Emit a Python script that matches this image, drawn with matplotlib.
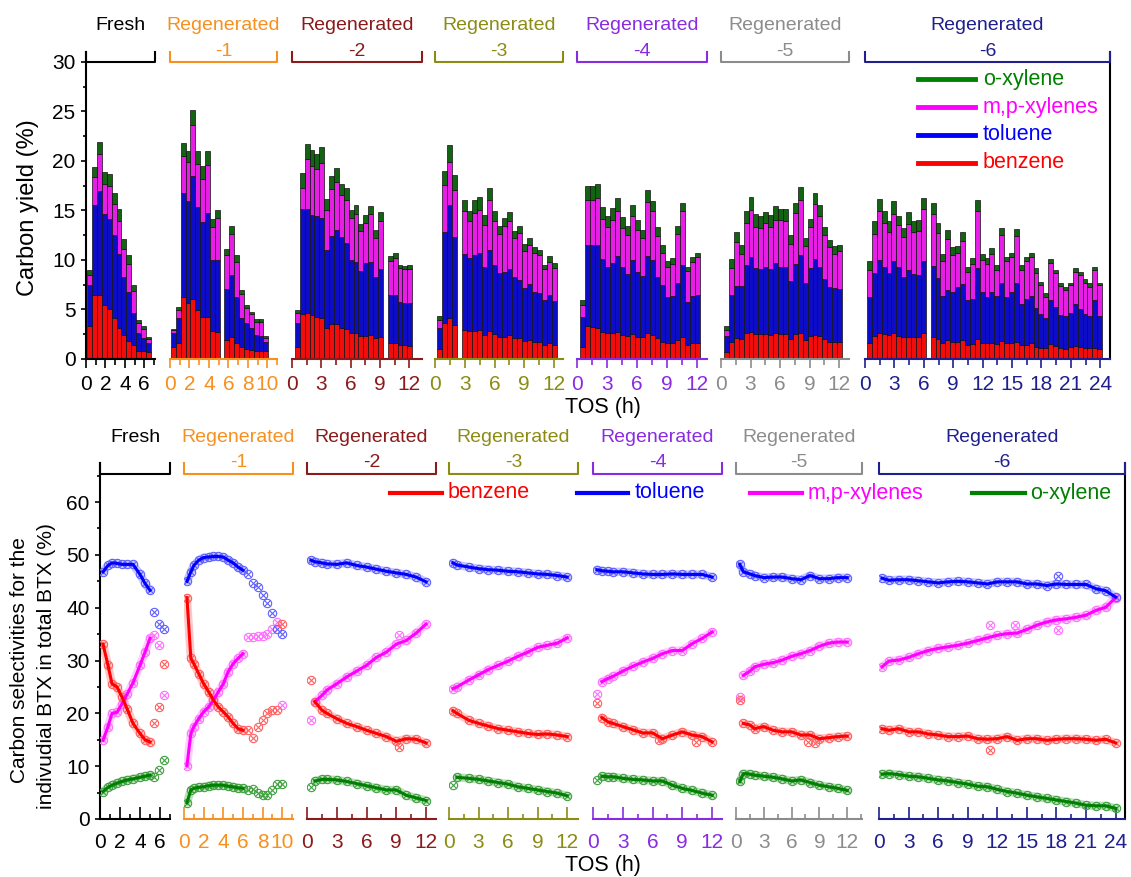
import numpy as np
import matplotlib.pyplot as plt
from matplotlib.lines import Line2D
from matplotlib.ticker import MultipleLocator

plt.rcParams['font.family'] = ['Liberation Sans', 'DejaVu Sans']

nan = np.nan
W, H = 1131, 877

# segments of the catalyst life
seg_title = ['Fresh'] + ['Regenerated'] * 6
seg_suffix = ['', '-1', '-2', '-3', '-4', '-5', '-6']
seg_color = ['#000000', '#f7901e', '#8b1a1a', '#8c8c14', '#8a2be2', '#8c8c8c', '#1f1f8f']
seg_major = [2, 2, 3, 3, 3, 3, 3]

species = ['benzene', 'toluene', 'm,p-xylenes', 'o-xylene']
bar_color = ['#f20d0d', '#0d0dc8', '#e61ee6', '#126412']
line_color = ['#ff0000', '#0000ff', '#ff00ff', '#008000']
mark_color = ['#ff6060', '#6060ff', '#ff70ff', '#40a040']

# ---------------- carbon yield (%) ----------------
fresh_tos = [0.4, 0.9, 1.4, 1.9, 2.4, 2.9, 3.4, 3.9, 4.4, 4.9, 5.4, 5.9, 6.4]
fresh_benzene = [3.3, 6.45, 6.45, 5.5, 5.0, 4.1, 3.15, 2.4, 1.85, 1.4, 0.85, 0.85, 0.7]
fresh_toluene = [4.15, 9.15, 10.55, 9.1, 9.1, 8.4, 7.45, 5.9, 4.95, 3.25, 1.75, 1.25, 0.9]
fresh_mp = [1.0, 2.8, 3.7, 3.1, 3.4, 3.2, 3.3, 2.8, 2.8, 2.25, 1.0, 0.9, 0.4]
fresh_ox = [0.5, 1.0, 1.2, 1.2, 1.2, 1.1, 1.2, 1.0, 0.9, 0.55, 0.3, 0.3, 0.2]

r1_tos = [0.35, 0.85, 1.35, 1.85, 2.35, 2.85, 3.35, 3.85, 4.35, 4.85,
          5.85, 6.35, 6.85, 7.35, 7.85, 8.35, 8.85, 9.35, 9.85]
r1_benzene = [1.25, 1.6, 6.3, 5.7, 6.1, 4.9, 4.2, 4.2, 2.85, 2.7,
              1.9, 2.25, 1.6, 1.2, 1.0, 0.95, 0.85, 0.85, 0.85]
r1_toluene = [1.35, 2.5, 10.5, 10.3, 12.4, 10.4, 9.6, 10.5, 7.15, 7.3,
              5.2, 6.2, 4.7, 2.9, 2.6, 2.15, 1.55, 1.45, 0.9]
r1_mp = [0.3, 0.8, 3.7, 3.9, 5.1, 4.4, 4.4, 4.9, 3.3, 4.2,
         3.4, 4.2, 3.5, 2.5, 1.5, 1.4, 1.35, 1.45, 0.35]
r1_ox = [0.1, 0.35, 1.3, 1.1, 1.5, 1.3, 1.3, 1.4, 0.8, 0.8,
         0.6, 0.75, 0.7, 0.35, 0.35, 0.25, 0.25, 0.25, 0.2]

r2_tos = [0.55, 1.05, 1.55, 2.05, 2.55, 3.05, 3.55, 4.05, 4.55, 5.05, 5.55, 6.05,
          6.55, 7.05, 7.55, 8.05, 8.55, 9.05, 10.05, 10.55, 11.05, 11.55, 12.05]
r2_benzene = [1.25, 4.55, 4.6, 4.4, 4.2, 4.1, 3.15, 3.5, 3.55, 3.15, 3.0, 2.65,
              2.6, 2.3, 2.3, 2.4, 2.1, 2.2, 1.6, 1.6, 1.4, 1.4, 1.35]
r2_toluene = [2.4, 10.55, 10.5, 10.15, 10.2, 10.1, 7.85, 8.9, 9.45, 9.15, 8.7, 7.35,
              7.2, 6.6, 7.35, 7.4, 6.2, 6.9, 4.85, 4.85, 4.4, 4.3, 4.35]
r2_mp = [0.95, 2.2, 5.1, 4.95, 4.8, 5.6, 4.0, 4.8, 4.9, 4.3, 4.4, 4.2,
         4.8, 4.0, 4.05, 4.8, 3.9, 4.8, 3.45, 3.7, 3.35, 3.35, 3.4]
r2_ox = [0.3, 1.45, 1.5, 1.6, 1.5, 1.6, 1.2, 1.3, 1.4, 1.1, 1.2, 0.85,
         0.95, 0.7, 0.8, 0.85, 0.8, 0.9, 0.5, 0.55, 0.35, 0.35, 0.4]

r3_tos = [0.5, 1.0, 1.5, 2.0, 3.0, 3.5, 4.0, 4.5, 5.0, 5.5, 6.0, 6.5,
          7.0, 7.5, 8.0, 8.5, 9.0, 9.5, 10.0, 10.5, 11.0, 11.5, 12.0]
r3_benzene = [1.0, 3.65, 4.1, 3.45, 2.9, 2.85, 2.85, 2.9, 2.4, 2.85, 2.5, 2.25,
              2.25, 2.4, 2.1, 2.1, 1.85, 1.9, 1.75, 1.75, 1.4, 1.6, 1.4]
r3_toluene = [2.1, 9.2, 11.45, 8.9, 7.7, 7.3, 7.65, 7.85, 6.9, 8.15, 7.0, 6.4,
              6.55, 6.65, 6.2, 5.9, 5.3, 5.7, 5.05, 4.9, 4.55, 4.85, 4.5]
r3_mp = [0.85, 4.75, 4.35, 4.75, 4.3, 3.75, 4.2, 4.3, 4.2, 5.1, 4.4, 3.95,
         4.6, 4.85, 3.9, 4.7, 3.75, 3.9, 3.9, 3.85, 3.1, 3.35, 3.25]
r3_ox = [0.35, 1.4, 1.7, 1.5, 1.2, 1.0, 1.4, 1.35, 1.0, 1.2, 1.0, 0.8,
         0.8, 0.9, 0.7, 0.7, 0.7, 0.7, 0.6, 0.5, 0.45, 0.6, 0.5]

r4_tos = [0.55, 1.05, 1.55, 2.05, 2.55, 3.05, 3.55, 4.05, 4.55, 5.05, 5.55, 6.05,
          6.55, 7.05, 7.55, 8.05, 8.55, 9.05, 9.55, 10.05, 10.55, 11.05, 11.55, 12.05]
r4_benzene = [1.25, 3.35, 3.2, 3.15, 2.75, 2.6, 2.65, 2.75, 2.4, 2.3, 2.5, 2.25,
              2.2, 2.6, 2.4, 2.1, 1.75, 1.6, 1.65, 1.9, 2.25, 1.4, 1.6, 1.6]
r4_toluene = [2.95, 8.15, 8.3, 8.35, 7.3, 6.7, 7.05, 7.65, 6.9, 6.3, 7.5, 6.55,
              6.2, 7.85, 7.6, 6.2, 5.75, 4.7, 4.7, 5.8, 7.25, 4.4, 4.75, 4.9]
r4_mp = [1.3, 4.6, 4.6, 4.8, 4.05, 4.0, 4.3, 4.55, 3.9, 3.9, 4.45, 4.2,
         3.8, 5.45, 4.9, 4.1, 3.25, 3.0, 3.25, 4.9, 5.45, 3.1, 3.45, 3.8]
r4_ox = [0.5, 1.4, 1.4, 1.4, 1.2, 1.1, 1.2, 1.35, 1.1, 0.9, 1.15, 1.0,
         0.8, 1.2, 1.1, 0.9, 0.75, 0.6, 0.6, 0.8, 0.85, 0.4, 0.5, 0.45]

r5_tos = [0.55, 1.05, 1.55, 2.05, 2.55, 3.05, 3.55, 4.05, 4.55, 5.05, 5.55, 6.05,
          6.55, 7.05, 7.55, 8.05, 8.55, 9.05, 9.55, 10.05, 10.55, 11.05, 11.55, 12.05]
r5_benzene = [0.75, 1.75, 2.1, 2.0, 2.6, 2.7, 2.5, 2.5, 2.5, 2.4, 2.6, 2.5,
              2.5, 2.0, 2.5, 2.6, 1.9, 2.3, 2.4, 2.3, 2.0, 1.75, 1.75, 1.75]
r5_toluene = [1.55, 4.7, 5.25, 5.35, 6.9, 7.55, 6.65, 6.55, 6.8, 6.65, 7.05, 6.8,
              6.75, 5.9, 7.1, 7.9, 5.75, 6.85, 7.65, 7.0, 6.1, 5.55, 5.4, 5.3]
r5_mp = [0.6, 2.7, 4.5, 3.3, 4.2, 4.8, 4.2, 4.15, 4.4, 4.3, 4.4, 4.75,
         4.7, 3.7, 5.1, 5.55, 3.75, 4.15, 5.6, 5.15, 4.4, 4.05, 3.5, 3.85]
r5_ox = [0.45, 0.9, 1.0, 0.85, 1.2, 1.35, 1.25, 1.2, 1.15, 1.2, 1.35, 1.05,
         1.15, 0.9, 1.1, 1.3, 0.8, 0.8, 1.15, 1.1, 0.85, 0.65, 0.75, 0.6]

r6_tos = [0.45, 0.95, 1.45, 1.95, 2.45, 2.95, 3.45, 3.95, 4.45, 4.95, 5.45, 5.95,
          6.95, 7.45, 7.95, 8.45, 8.95, 9.45, 9.95, 10.45, 10.95, 11.45, 11.95, 12.45,
          12.95, 13.45, 13.95, 14.45, 14.95, 15.45, 15.95, 16.45, 16.95, 17.45, 17.95,
          18.45, 18.95, 19.45, 19.95, 20.45, 20.95, 21.45, 21.95, 22.45, 22.95, 23.45, 23.95]
r6_benzene = [1.65, 2.35, 2.65, 2.5, 2.4, 2.6, 2.35, 2.25, 2.25, 2.25, 2.25, 2.6,
              2.25, 2.0, 1.6, 1.9, 1.7, 1.75, 1.9, 1.4, 1.5, 2.0, 1.6, 1.65,
              1.65, 1.5, 1.8, 1.6, 1.65, 1.75, 1.4, 1.4, 1.6, 1.25, 1.1,
              1.1, 1.5, 1.3, 1.15, 1.0, 1.25, 1.3, 1.25, 1.15, 1.15, 1.15, 1.0]
r6_toluene = [4.65, 6.3, 7.35, 6.75, 6.25, 7.25, 6.9, 6.05, 6.75, 6.3, 6.25, 7.3,
              7.1, 6.15, 4.75, 5.05, 5.1, 5.55, 5.7, 4.55, 4.6, 7.15, 5.2, 4.65,
              5.15, 4.85, 5.85, 4.65, 5.15, 5.9, 4.2, 4.7, 4.75, 3.85, 3.45,
              3.0, 4.45, 4.0, 3.25, 3.3, 3.35, 4.25, 3.8, 3.4, 3.2, 4.85, 3.3]
r6_mp = [2.7, 3.95, 4.9, 4.45, 4.2, 4.8, 4.3, 4.0, 4.6, 4.3, 4.4, 5.2,
         5.25, 4.55, 3.5, 5.15, 3.7, 3.4, 4.3, 2.8, 3.45, 5.75, 3.2, 3.3,
         3.8, 2.65, 4.85, 3.6, 3.45, 4.75, 3.35, 3.75, 3.95, 3.6, 2.9,
         2.2, 3.7, 3.35, 2.95, 2.65, 2.85, 3.25, 3.45, 3.1, 2.95, 3.0, 3.15]
r6_ox = [0.85, 1.3, 1.3, 1.2, 1.05, 1.3, 0.9, 0.9, 1.2, 1.1, 1.15, 1.2,
         1.2, 1.0, 0.75, 0.95, 0.8, 0.75, 0.9, 0.55, 0.6, 1.15, 0.6, 0.55,
         0.65, 0.5, 0.7, 0.4, 0.5, 0.7, 0.55, 0.4, 0.45, 0.45, 0.35,
         0.35, 0.4, 0.35, 0.35, 0.35, 0.25, 0.35, 0.3, 0.4, 0.35, 0.25, 0.25]

yield_data = [
    (fresh_tos, [fresh_benzene, fresh_toluene, fresh_mp, fresh_ox]),
    (r1_tos, [r1_benzene, r1_toluene, r1_mp, r1_ox]),
    (r2_tos, [r2_benzene, r2_toluene, r2_mp, r2_ox]),
    (r3_tos, [r3_benzene, r3_toluene, r3_mp, r3_ox]),
    (r4_tos, [r4_benzene, r4_toluene, r4_mp, r4_ox]),
    (r5_tos, [r5_benzene, r5_toluene, r5_mp, r5_ox]),
    (r6_tos, [r6_benzene, r6_toluene, r6_mp, r6_ox]),
]

# ---------------- selectivity in total BTX (%) ----------------
s0_tos = [0.3, 0.8, 1.2, 1.7, 2.2, 2.7, 3.3, 4.0, 4.5, 5.0]
s0_benzene = [33.1, 29.1, 25.6, 25.0, 23.1, 20.9, 18.1, 16.2, 15.0, 14.6]
s0_toluene = [46.8, 48.0, 48.5, 48.4, 48.2, 48.2, 48.2, 46.3, 44.6, 43.3]
s0_mp = [14.9, 17.5, 20.0, 20.2, 21.8, 23.6, 25.8, 29.1, 31.6, 34.2]
s0_ox = [5.2, 6.0, 6.4, 6.8, 7.1, 7.4, 7.6, 7.9, 8.1, 8.3]
s0_out_tos = [5.4, 5.9, 6.4]
s0_out = [[18.1, 21.2, 29.4], [39.2, 37.0, 36.0], [34.8, 32.9, 23.4], [8.0, 9.3, 11.2]]

s1_tos = [0.3, 0.7, 1.0, 1.5, 2.0, 2.5, 3.0, 3.5, 4.0, 4.5, 5.0, 5.5, 6.0]
s1_benzene = [41.9, 30.4, 29.4, 27.5, 25.6, 24.1, 22.5, 21.2, 20.3, 19.3, 18.1, 17.1, 16.8]
s1_toluene = [45.0, 46.8, 48.0, 49.0, 49.5, 49.6, 49.7, 49.7, 49.6, 49.0, 48.5, 47.7, 47.1]
s1_mp = [10.1, 16.2, 17.5, 19.0, 20.3, 21.2, 22.5, 24.1, 25.6, 27.9, 29.4, 30.4, 31.3]
s1_ox = [3.1, 5.5, 5.8, 6.0, 6.1, 6.3, 6.4, 6.4, 6.4, 6.2, 6.1, 5.9, 5.8]
s1_out_tos = [6.5, 7.0, 7.5, 8.0, 8.5, 9.0, 9.5, 10.0]
s1_out = [[16.9, 15.4, 17.5, 18.7, 20.0, 20.6, 20.6, 37.0],
          [46.4, 44.7, 43.9, 42.5, 40.8, 39.0, 36.0, 35.1],
          [34.5, 34.5, 34.6, 34.6, 35.1, 36.0, 37.3, 21.5],
          [5.4, 5.6, 4.9, 4.5, 4.5, 5.5, 6.7, 6.6]]

s2_tos = [0.4, 0.8, 1.5, 2, 3, 4, 5, 6, 7, 8, 9, 10, 11, 12]
s2_benzene = [nan, 22.2, 20.6, 20.0, 19.0, 18.1, 17.5, 16.8, 16.2, 15.6, 14.7, 15.2, 15.1, 14.4]
s2_toluene = [49.0, 48.7, 48.5, 48.3, 48.2, 48.5, 48.0, 47.7, 47.3, 46.9, 46.6, 46.3, 45.8, 44.9]
s2_mp = [nan, 22.2, 23.4, 24.4, 25.6, 26.9, 28.0, 29.1, 30.6, 31.6, 33.1, 33.8, 35.2, 36.9]
s2_ox = [nan, 7.2, 7.5, 7.5, 7.4, 7.1, 6.7, 6.3, 5.9, 5.5, 5.5, 4.5, 4.0, 3.5]
s2_out_tos = [0.4, 9.3]
s2_out = [[26.3, 13.7], [nan, nan], [18.8, 34.8], [6.1, nan]]

s3_tos = [0.4, 0.8, 2, 3, 4, 5, 6, 7, 8, 9, 10, 11, 12]
s3_benzene = [20.5, 20.0, 18.7, 18.1, 17.6, 17.1, 16.8, 16.5, 16.2, 16.0, 16.1, 15.9, 15.6]
s3_toluene = [48.5, 48.1, 47.7, 47.4, 47.2, 47.1, 46.9, 46.8, 46.6, 46.4, 46.3, 46.1, 45.8]
s3_mp = [24.7, 25.0, 26.3, 27.3, 28.3, 29.1, 29.9, 30.8, 31.6, 32.5, 32.9, 33.3, 34.3]
s3_ox = [nan, 7.9, 7.7, 7.5, 7.2, 6.9, 6.6, 6.1, 5.8, 5.5, 5.2, 4.9, 4.4]
s3_out_tos = [0.4]
s3_out = [[nan], [nan], [nan], [6.4]]

s4_tos = [0.4, 0.9, 1.5, 2, 3, 4, 5, 6, 7, 8, 9, 10, 11, 12]
s4_benzene = [nan, 19.2, 18.4, 18.1, 17.5, 16.9, 16.3, 16.3, 15.2, 15.9, 16.5, 15.9, 15.6, 14.6]
s4_toluene = [47.2, 47.0, 46.9, 46.8, 46.8, 46.6, 46.4, 46.3, 46.3, 46.4, 46.3, 46.3, 46.3, 45.8]
s4_mp = [nan, 26.0, 26.6, 27.0, 28.0, 28.9, 29.7, 30.4, 31.3, 31.9, 31.9, 33.2, 34.2, 35.4]
s4_ox = [nan, 8.1, 8.0, 8.0, 7.7, 7.5, 7.4, 7.2, 7.2, 6.4, 5.8, 5.4, 4.9, 4.5]
s4_out_tos = [0.4, 6.7, 10.4]
s4_out = [[21.9, 14.9, 14.5], [nan, nan, nan], [23.6, nan, nan], [7.4, nan, nan]]

s5_tos = [0.4, 0.8, 1.5, 2, 3, 4, 5, 6, 7, 8, 9, 10, 11, 12]
s5_benzene = [nan, 18.1, 17.8, 17.1, 17.5, 16.8, 16.5, 16.5, 15.9, 15.9, 15.2, 15.4, 15.6, 15.7]
s5_toluene = [48.2, 46.8, 46.4, 46.1, 45.7, 45.8, 45.8, 45.5, 45.3, 46.1, 45.5, 45.5, 45.7, 45.7]
s5_mp = [nan, 27.2, 28.0, 28.8, 29.3, 29.6, 30.1, 30.8, 31.3, 31.9, 32.7, 33.3, 33.5, 33.5]
s5_ox = [7.1, 8.6, 8.5, 8.3, 8.1, 7.9, 7.6, 7.2, 7.4, 6.9, 6.4, 6.1, 5.8, 5.4]
s5_out_tos = [0.4, 7.8, 8.5]
s5_out = [[22.5, 14.6, 14.3], [nan, nan, nan], [23.1, nan, nan], [nan, nan, nan]]

s6_tos = [0.3, 1, 2, 3, 4, 5, 6, 7, 8, 9, 10, 11, 12, 13, 14, 15, 16, 17, 18, 19, 20, 21, 22, 23, 24]
s6_benzene = [17.1, 16.8, 17.1, 16.5, 16.5, 16.1, 15.9, 15.6, 15.6, 15.7, 15.2, 15.1, 15.2,
              15.6, 14.9, 15.2, 15.2, 14.9, 15.1, 15.2, 15.2, 15.1, 14.9, 15.1, 14.4]
s6_toluene = [45.6, 45.2, 45.3, 45.3, 45.1, 44.9, 44.7, 44.9, 45.0, 44.9, 44.7, 44.5, 44.9,
              44.9, 44.9, 44.5, 44.5, 44.2, 44.5, 44.4, 44.4, 44.4, 43.6, 43.2, 42.0]
s6_mp = [28.8, 29.9, 30.1, 30.6, 31.3, 31.9, 32.3, 32.6, 32.9, 33.3, 33.8, 34.3, 34.8,
         35.1, 35.2, 35.9, 36.7, 37.3, 37.7, 37.9, 38.2, 38.6, 39.5, 40.1, 41.9]
s6_ox = [8.5, 8.6, 8.4, 8.1, 8.0, 7.7, 7.4, 7.2, 6.9, 6.6, 6.2, 6.1, 5.6,
         5.2, 4.9, 4.5, 4.2, 3.9, 3.6, 3.3, 3.0, 2.6, 2.5, 2.5, 2.0]
s6_out_tos = [11.3, 13.8, 18.2]
s6_out = [[13.0, nan, nan], [nan, nan, 46.1], [36.7, 36.7, 35.7], [nan, nan, nan]]

sel_data = [
    (s0_tos, [s0_benzene, s0_toluene, s0_mp, s0_ox], s0_out_tos, s0_out),
    (s1_tos, [s1_benzene, s1_toluene, s1_mp, s1_ox], s1_out_tos, s1_out),
    (s2_tos, [s2_benzene, s2_toluene, s2_mp, s2_ox], s2_out_tos, s2_out),
    (s3_tos, [s3_benzene, s3_toluene, s3_mp, s3_ox], s3_out_tos, s3_out),
    (s4_tos, [s4_benzene, s4_toluene, s4_mp, s4_ox], s4_out_tos, s4_out),
    (s5_tos, [s5_benzene, s5_toluene, s5_mp, s5_ox], s5_out_tos, s5_out),
    (s6_tos, [s6_benzene, s6_toluene, s6_mp, s6_ox], s6_out_tos, s6_out),
]

# segment frames in pixels: (left, right, x max in h)
top_frames = [(86, 155, 7.1), (170, 277, 11.0), (292, 422, 13.3), (435, 563, 12.9),
              (577, 707, 13.0), (721, 849, 13.0), (865, 1110, 25.0)]
bot_frames = [(100, 170, 7.0), (184, 293, 11.1), (307, 436, 13.0), (449, 578, 13.1),
              (593, 722, 13.0), (736, 862, 13.6), (879, 1125, 24.95)]

fig = plt.figure(figsize=(W / 100, H / 100), dpi=100)


def fx(px):
    return px / W


def fy(py):
    return 1 - py / H


def make_panel(frames, ytop, ybot, ymax, ybracket, xdir, xpad, xlen, ymajor, yminor):
    axes = []
    n = len(frames)
    for i, (l, r, xmax) in enumerate(frames):
        ax = fig.add_axes([fx(l), fy(ybot), (r - l) / W, (ybot - ytop) / H])
        c = seg_color[i]
        ax.set_xlim(0, xmax)
        ax.set_ylim(0, ymax)
        ax.patch.set_alpha(0)
        ax.spines['top'].set_visible(False)
        ax.spines['right'].set_visible(i == n - 1)
        ax.spines['right'].set_linewidth(1.5)
        ax.spines['left'].set_visible(i == 0)
        ax.spines['left'].set_linewidth(1.5)
        ax.spines['bottom'].set_color(c)
        ax.spines['bottom'].set_linewidth(1.5)
        ax.xaxis.set_major_locator(MultipleLocator(seg_major[i]))
        ax.xaxis.set_minor_locator(MultipleLocator(seg_major[i] / 2))
        ax.tick_params(axis='x', which='major', direction=xdir, length=xlen[0], width=1.2,
                       colors=c, labelsize=15, pad=xpad)
        ax.tick_params(axis='x', which='minor', direction=xdir, length=xlen[1], width=1.2, colors=c)
        if i == 0:
            ax.yaxis.set_major_locator(MultipleLocator(ymajor))
            ax.yaxis.set_minor_locator(MultipleLocator(yminor))
            ax.tick_params(axis='y', which='major', direction='out', length=3.5, width=1.2,
                           labelsize=15, pad=4)
            ax.tick_params(axis='y', which='minor', direction='out', length=2, width=1.2)
        else:
            ax.yaxis.set_visible(False)
        ax.plot([0, 0, xmax, xmax], [ymax, ybracket, ybracket, ymax], color=c, lw=1.5,
                clip_on=False, zorder=5)
        axes.append(ax)
    return axes


top_axes = make_panel(top_frames, 52, 359, 31, 30, 'out', 5, (6.5, 4), 5, 2.5)
bot_axes = make_panel(bot_frames, 463, 819, 67.4, 65.4, 'in', 10, (8.5, 3.5), 10, 5)

# stacked bars
for ax, (tos, comps) in zip(top_axes, yield_data):
    base = np.zeros(len(tos))
    for vals, col in zip(comps, bar_color):
        ax.bar(tos, vals, width=0.5, bottom=base, color=col, edgecolor='#111111',
               linewidth=0.5, zorder=2)
        base = base + np.array(vals)

# selectivity lines
draw_order = [3, 2, 1, 0]
for ax, (tos, series, out_tos, outs) in zip(bot_axes, sel_data):
    for k in draw_order:
        ax.plot(tos, series[k], color=mark_color[k], lw=6, alpha=0.35,
                solid_capstyle='round', zorder=2)
        for m, ms in (('o', 6), ('x', 4)):
            ax.plot(tos, series[k], ls='none', marker=m, ms=ms, mfc='none',
                    mec=mark_color[k], mew=0.8, zorder=3)
            ax.plot(out_tos, outs[k], ls='none', marker=m, ms=ms, mfc='none',
                    mec=mark_color[k], mew=0.8, zorder=3)
    for k in draw_order:
        ax.plot(tos, series[k], color=line_color[k], lw=2.2, zorder=4)

# segment labels
for frames, ytitle, ysuf in ((top_frames, 25, 51), (bot_frames, 437, 462)):
    for i, (l, r, _) in enumerate(frames):
        xc = fx((l + r) / 2)
        fig.text(xc, fy(ytitle), seg_title[i], color=seg_color[i], fontsize=14,
                 ha='center', va='center')
        if seg_suffix[i]:
            fig.text(xc, fy(ysuf), seg_suffix[i], color=seg_color[i], fontsize=14,
                     ha='center', va='center')

# legends
top_leg_y = [163, 135, 107, 79]
for k in range(4):
    fig.add_artist(Line2D([fx(918), fx(975)], [fy(top_leg_y[k])] * 2,
                          color=line_color[k], lw=3.5))
    fig.text(fx(983), fy(top_leg_y[k]), species[k], color=line_color[k], fontsize=15.5,
             ha='left', va='center')

bot_leg_x = [(390, 442, 448), (577, 628, 635), (750, 802, 808), (972, 1025, 1030)]
for k, (x0, x1, xt) in enumerate(bot_leg_x):
    fig.add_artist(Line2D([fx(x0), fx(x1)], [fy(493)] * 2, color=line_color[k], lw=3))
    fig.text(fx(xt), fy(493), species[k], color=line_color[k], fontsize=15.5,
             ha='left', va='center')

# axis titles
fig.text(fx(603), fy(407), 'TOS (h)', fontsize=15.5, ha='center', va='center')
fig.text(fx(603), fy(866), 'TOS (h)', fontsize=15.5, ha='center', va='center')
fig.text(fx(28), fy(208), 'Carbon yield (%)', fontsize=17, rotation=90,
         ha='center', va='center')
fig.text(fx(20), fy(660), 'Carbon selectivities for the', fontsize=15, rotation=90,
         ha='center', va='center')
fig.text(fx(47), fy(666), 'indivudial BTX in total BTX (%)', fontsize=15, rotation=90,
         ha='center', va='center')

fig.savefig('out.png', dpi=100)
